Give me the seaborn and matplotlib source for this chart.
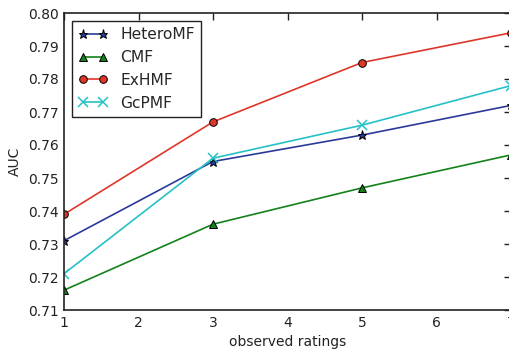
import matplotlib
matplotlib.use("Agg")
import matplotlib.pyplot as plt
import seaborn as sns
import pandas as pd

observed = [1, 3, 5, 7]
hetero_mf = [0.731, 0.755, 0.763, 0.772]
cmf = [0.716, 0.736, 0.747, 0.757]
exhmf = [0.739, 0.767, 0.785, 0.794]
gcpmf = [0.721, 0.756, 0.766, 0.778]

series = [
    ("HeteroMF", hetero_mf, "#2b3a9a", "*", 6.5),
    ("CMF", cmf, "#13821a", "^", 6),
    ("ExHMF", exhmf, "#e0362a", "o", 5.5),
    ("GcPMF", gcpmf, "#25c1c6", "x", 6.5),
]

sns.set_style("white")
plt.rcParams["font.family"] = ["DejaVu Sans"]

fig = plt.figure(figsize=(5.09, 3.52), dpi=100)
ax = fig.add_axes([64 / 509, 1 - 310 / 352, (511 - 64) / 509, (310 - 13) / 352])

for name, vals, color, marker, ms in series:
    df = pd.DataFrame({"x": observed, "y": vals})
    kw = dict(markeredgecolor="black", markeredgewidth=0.7)
    if marker == "x":
        kw = dict(markeredgecolor=color, markeredgewidth=1.1)
    sns.lineplot(data=df, x="x", y="y", ax=ax, color=color, marker=marker,
                 markersize=ms, linewidth=1.2, label=name, **kw)

ax.set_xlim(1, 7)
ax.set_ylim(0.71, 0.80)
ax.set_xticks([1, 2, 3, 4, 5, 6, 7])
ax.set_yticks([0.71 + 0.01 * i for i in range(10)])
ax.set_yticklabels([f"{0.71 + 0.01 * i:.2f}" for i in range(10)])
ax.tick_params(direction="in", length=5, width=1, top=True, right=True,
               labelsize=10, colors="#222222", pad=4)
for s in ax.spines.values():
    s.set_color("#222222")
    s.set_linewidth(1.2)
ax.set_xlabel("observed ratings", fontsize=10, color="#222222")
ax.set_ylabel("AUC", fontsize=10, color="#222222")

leg = ax.legend(loc="upper left", fontsize=11.2, numpoints=2, frameon=True,
                fancybox=False, edgecolor="#222222", framealpha=1,
                borderpad=0.4, handlelength=1.9, handletextpad=0.8,
                labelspacing=0.5, borderaxespad=0,
                bbox_to_anchor=(0.018, 0.973))
leg.get_frame().set_linewidth(1.0)

fig.savefig("out.png", dpi=100)
